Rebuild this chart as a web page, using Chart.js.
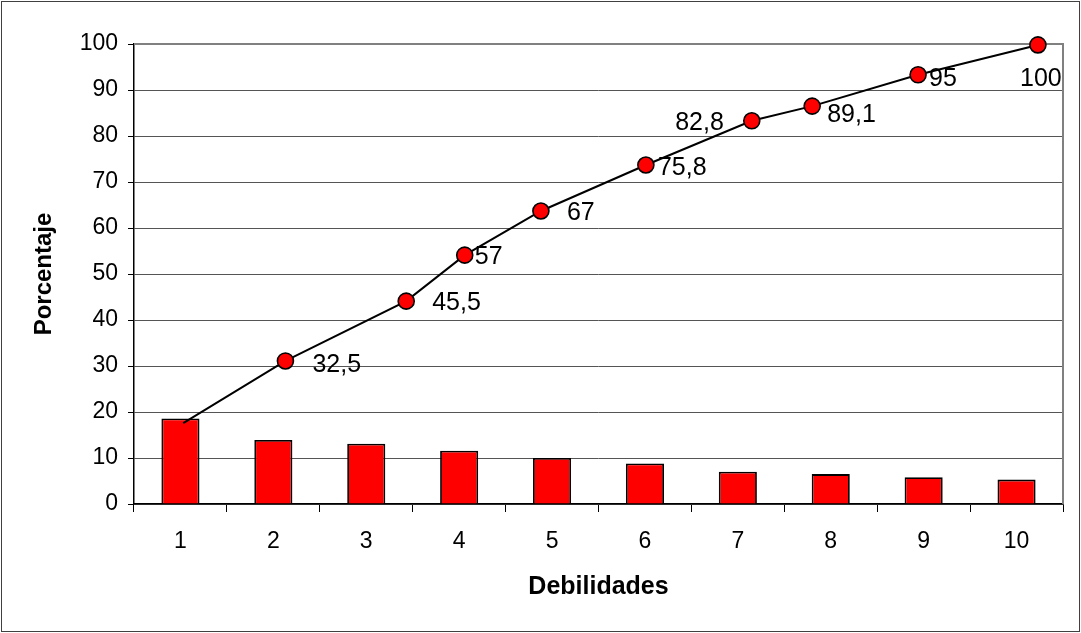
<!DOCTYPE html>
<html>
<head>
<meta charset="utf-8">
<script src="https://cdn.jsdelivr.net/npm/chart.js@4"></script>
<style>
  html, body { margin: 0; padding: 0; background: #fff; }
  #wrap { width: 1081px; height: 633px; }
</style>
</head>
<body>
<div id="wrap"><canvas id="pareto" width="1081" height="633"></canvas></div>
<script>
// categories (debilidades) and bar values
const categories = ['1', '2', '3', '4', '5', '6', '7', '8', '9', '10'];
const barValues = [18.6, 13.9, 13.1, 11.6, 10.0, 8.8, 7.0, 6.5, 5.8, 5.3];

// cumulative line, placed as drawn in the original (x in category units)
const lineX = [1.03, 2.13, 3.43, 4.06, 4.88, 6.01, 7.15, 7.80, 8.94, 10.23];
const lineY = [17.6, 31.1, 44.1, 54.1, 63.7, 73.7, 83.3, 86.5, 93.3, 99.8];
const lineLabels = ['', '32,5', '45,5', '57', '67', '75,8', '82,8', '89,1', '95', '100'];

// label placement relative to each marker: [dx, dy, align]
const labelPlace = [
  [0, 0, 'left'], [27, 4, 'left'], [26, 2, 'left'], [10, 2, 'left'], [26, 2, 'left'],
  [12, 3, 'left'], [-28, 2, 'right'], [15, 9, 'left'], [11, 4, 'left'], [3, 34, 'center']
];

Chart.defaults.font.family = "'Liberation Sans', Arial, sans-serif";
Chart.defaults.color = '#000';

const linePoints = lineX.map((x, i) => ({x: x, y: lineY[i]}));

const frame = {
  id: 'frame',
  beforeDatasetsDraw(chart) {
    const {ctx, chartArea} = chart;
    ctx.save();
    ctx.strokeStyle = '#808080';
    ctx.lineWidth = 2;
    ctx.beginPath();
    ctx.moveTo(chartArea.left, chartArea.top);
    ctx.lineTo(chartArea.right, chartArea.top);
    ctx.lineTo(chartArea.right, chartArea.bottom);
    ctx.stroke();
    ctx.restore();
  },
  afterDraw(chart) {
    const {ctx} = chart;
    ctx.save();
    ctx.strokeStyle = '#404040';
    ctx.lineWidth = 1;
    ctx.strokeRect(1.5, 1.5, chart.width - 3, chart.height - 3);
    ctx.restore();
  }
};

const pointLabels = {
  id: 'pointLabels',
  afterDatasetsDraw(chart) {
    const {ctx} = chart;
    const meta = chart.getDatasetMeta(1);
    ctx.save();
    ctx.font = '25px "Liberation Sans", Arial, sans-serif';
    ctx.fillStyle = '#000';
    ctx.textBaseline = 'middle';
    meta.data.forEach((pt, i) => {
      if (!lineLabels[i]) return;
      const p = labelPlace[i];
      ctx.textAlign = p[2];
      ctx.fillText(lineLabels[i], pt.x + p[0], pt.y + p[1]);
    });
    ctx.restore();
  }
};

new Chart(document.getElementById('pareto'), {
  type: 'bar',
  data: {
    labels: categories,
    datasets: [
      {
        type: 'bar',
        xAxisID: 'x',
        data: barValues,
        backgroundColor: '#ff0000',
        borderColor: '#000',
        borderWidth: 1.8,
        grouped: false,
        barPercentage: 0.41,
        categoryPercentage: 1,
        order: 1
      },
      {
        type: 'line',
        xAxisID: 'xl',
        data: linePoints,
        clip: false,
        borderColor: '#000',
        borderWidth: 2,
        tension: 0,
        fill: false,
        pointRadius: ctx => ctx.dataIndex === 0 ? 0 : 8,
        pointBackgroundColor: '#ff0000',
        pointBorderColor: '#000',
        pointBorderWidth: 1.6,
        order: 0
      }
    ]
  },
  options: {
    responsive: false,
    animation: false,
    layout: { padding: { left: 0, right: 18, top: 44, bottom: 0 } },
    plugins: {
      legend: { display: false },
      tooltip: { enabled: false }
    },
    scales: {
      x: {
        type: 'category',
        offset: true,
        grid: { offset: true, drawOnChartArea: false, drawTicks: true, tickLength: 8, color: '#000' },
        border: { display: true, color: '#000', width: 1.5 },
        ticks: { font: { size: 23 }, padding: 16, maxRotation: 0 },
        title: { display: true, text: 'Debilidades', font: { size: 25, weight: 'bold' }, padding: { top: 0, bottom: 31 } },
        afterFit(scale) { scale.height = 129; }
      },
      xl: {
        type: 'linear',
        display: false,
        offset: false,
        grid: { offset: false },
        min: 0.5,
        max: 10.5
      },
      y: {
        min: 0,
        max: 100,
        ticks: { stepSize: 10, font: { size: 23 }, padding: 10 },
        grid: { color: '#555', lineWidth: 1, tickLength: 6, tickColor: '#000' },
        border: { display: true, color: '#000', width: 1.5 },
        title: { display: true, text: 'Porcentaje', font: { size: 24, weight: 'bold' }, padding: { top: 30, bottom: 0 } },
        afterFit(scale) { scale.width = 134; }
      }
    }
  },
  plugins: [frame, pointLabels]
});
</script>
</body>
</html>
